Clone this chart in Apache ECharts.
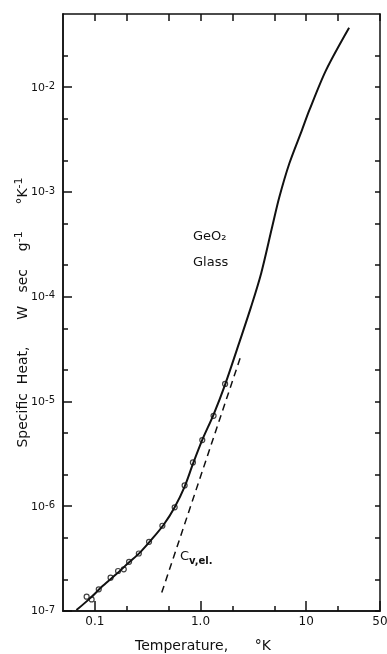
<!DOCTYPE html>
<html>
<head>
<meta charset="utf-8">
<script src="https://cdn.jsdelivr.net/npm/echarts@6/dist/echarts.min.js"></script>
<style>html,body{margin:0;background:#fff}#chart{width:387px;height:654px}</style>
</head>
<body>
<div id="chart"></div>
<script>
// measured points (circles)
var tempPts = [0.0837, 0.0933, 0.109, 0.141, 0.166, 0.188, 0.211, 0.261, 0.326, 0.436, 0.570, 0.708, 0.848, 1.04, 1.33, 1.71];
var heatPts = [1.37e-7, 1.29e-7, 1.61e-7, 2.08e-7, 2.41e-7, 2.50e-7, 2.95e-7, 3.54e-7, 4.57e-7, 6.51e-7, 9.77e-7, 1.58e-6, 2.62e-6, 4.28e-6, 7.3e-6, 1.47e-5];
// solid curve
var tempCurve = [0.067, 0.09, 0.12, 0.16, 0.21, 0.27, 0.35, 0.45, 0.57, 0.71, 0.85, 1.04, 1.33, 1.71, 2.37, 3.01, 3.75, 4.76, 5.57, 6.93, 9.13, 10.7, 15.4, 25.5];
var heatCurve = [1.02e-7, 1.32e-7, 1.75e-7, 2.25e-7, 2.9e-7, 3.65e-7, 4.9e-7, 6.7e-7, 9.8e-7, 1.55e-6, 2.55e-6, 4.3e-6, 7.5e-6, 1.45e-5, 3.85e-5, 8.0e-5, 1.67e-4, 4.6e-4, 8.9e-4, 1.87e-3, 3.9e-3, 6.0e-3, 1.45e-2, 3.7e-2];
// Cv,el. dashed line
var tempEl = [0.43, 2.42];
var heatEl = [1.5e-7, 2.75e-5];
// ticks
var xMajor = [0.1, 1, 10, 50];
var xMinor = [0.2, 0.5, 2, 5, 20];
var yMajor = [1e-7, 1e-6, 1e-5, 1e-4, 1e-3, 1e-2];
var yMinor = [2e-7, 5e-7, 2e-6, 5e-6, 2e-5, 5e-5, 2e-4, 5e-4, 2e-3, 5e-3, 2e-2];

function zip(a, b) {
    return a.map(function (v, i) { return [v, b[i]]; });
}
function powLabel(v) {
    return '{b|10}{e|' + Math.round(Math.log10(v)) + '}';
}
var font = 'DejaVu Sans';
var lineStyle = {color: '#111', width: 1.5};
var supRich = {
    b: {fontFamily: font, fontSize: 14, color: '#111', lineHeight: 16, verticalAlign: 'bottom'},
    e: {fontFamily: font, fontSize: 11, color: '#111', lineHeight: 11, padding: [0, 0, 8, 0], verticalAlign: 'top'}
};

function xAx(opt) {
    return Object.assign({
        type: 'log', min: 0.05, max: 50, logBase: 10,
        axisLine: {show: true, lineStyle: lineStyle},
        splitLine: {show: false},
        axisLabel: {show: false},
        axisTick: {inside: true, length: 5, lineStyle: lineStyle}
    }, opt);
}
function yAx(opt) {
    return Object.assign({
        type: 'log', min: 1e-7, max: 5e-2, logBase: 10,
        axisLine: {show: true, lineStyle: lineStyle},
        splitLine: {show: false},
        axisLabel: {show: false},
        axisTick: {inside: true, length: 5, lineStyle: lineStyle}
    }, opt);
}

var myChart = echarts.init(document.getElementById('chart'));
myChart.setOption({
    animation: false,
    grid: {left: 63, right: 7, top: 14, bottom: 43, outerBoundsMode: 'none', containLabel: false},
    xAxis: [
        xAx({
            position: 'bottom',
            name: 'Temperature,      \u00b0K',
            nameLocation: 'middle',
            nameGap: 28,
            nameTextStyle: {fontFamily: font, fontSize: 14, color: '#111', padding: [0, 37, 0, 0]},
            axisTick: {inside: true, length: 10, customValues: xMajor, lineStyle: lineStyle},
            axisLabel: {
                show: true, customValues: xMajor, margin: 5,
                fontFamily: font, fontSize: 12, color: '#111',
                formatter: function (v) { return v === 1 ? '1.0' : String(v); }
            }
        }),
        xAx({position: 'bottom', axisTick: {inside: true, length: 5, customValues: xMinor, lineStyle: lineStyle}}),
        xAx({position: 'top', axisTick: {inside: true, length: 7, customValues: xMajor.concat(xMinor), lineStyle: lineStyle}})
    ],
    yAxis: [
        yAx({
            position: 'left',
            name: '{b|Specific  Heat,      W   sec    g}{e|-1}{b|      \u00b0K}{e|-1}',
            nameLocation: 'middle',
            nameGap: 33,
            nameMoveOverlap: false,
            nameRotate: 90,
            nameTextStyle: {rich: supRich},
            axisTick: {inside: true, length: 9, customValues: yMajor, lineStyle: lineStyle},
            axisLabel: {
                show: true, customValues: yMajor, margin: 8,
                formatter: powLabel,
                rich: {
                    b: {fontFamily: font, fontSize: 11, color: '#111', lineHeight: 12, verticalAlign: 'bottom'},
                    e: {fontFamily: font, fontSize: 10, color: '#111', lineHeight: 10, padding: [0, 0, 5, 0], verticalAlign: 'top'}
                }
            }
        }),
        yAx({position: 'left', axisTick: {inside: true, length: 5, customValues: yMinor, lineStyle: lineStyle}}),
        yAx({position: 'right', axisTick: {inside: true, length: 5, customValues: yMajor.concat(yMinor), lineStyle: lineStyle}})
    ],
    graphic: [
        {type: 'text', left: 193, top: 230, style: {text: 'GeO\u2082', font: '13px "DejaVu Sans"', fill: '#111'}},
        {type: 'text', left: 193, top: 256, style: {text: 'Glass', font: '13px "DejaVu Sans"', fill: '#111'}},
        {type: 'text', left: 180, top: 550, style: {text: 'C', font: '13px "DejaVu Sans"', fill: '#111'}},
        {type: 'text', left: 189, top: 556, style: {text: 'v,el.', font: 'bold 10px "DejaVu Sans"', fill: '#111'}}
    ],
    series: [
        {
            type: 'line', data: zip(tempCurve, heatCurve), smooth: 0.3, showSymbol: false,
            lineStyle: {color: '#111', width: 2}
        },
        {
            type: 'line', data: zip(tempEl, heatEl), showSymbol: false,
            lineStyle: {color: '#111', width: 1.5, type: [7, 5]}
        },
        {
            type: 'scatter', data: zip(tempPts, heatPts), symbol: 'circle', symbolSize: 5,
            itemStyle: {color: '#fff', borderColor: '#111', borderWidth: 1.2}
        }
    ]
});
</script>
</body>
</html>
